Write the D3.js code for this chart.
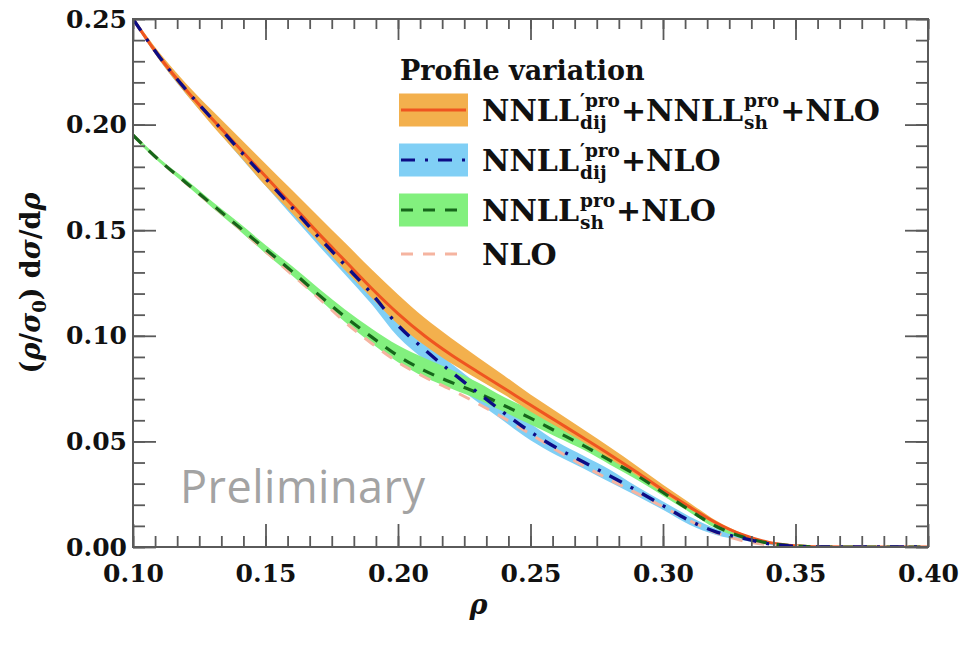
<!DOCTYPE html>
<html><head><meta charset="utf-8">
<script src="https://cdn.jsdelivr.net/npm/d3@7"></script>
<style>body{margin:0;background:#fff}</style>
</head><body>
<svg id="c" width="962" height="645"></svg>
<script>
// ---------------- data ----------------
const rho = [0.10,0.11,0.12,0.13,0.14,0.15,0.16,0.17,0.18,0.19,0.20,0.21,0.22,0.23,0.24,0.25,0.26,0.27,0.28,0.29,0.30,0.31,0.32,0.33,0.34,0.35,0.36,0.37,0.38,0.39,0.40];

// NNLL'_dij + NNLL_sh + NLO (orange band, red line)
const combCentral = [.250,.232,.2165,.2025,.189,.1755,.162,.1485,.1355,.1225,.1105,.100,.091,.083,.0752,.0672,.0594,.0516,.0437,.0355,.027,.019,.0115,.0058,.0022,.0006,.0001,0,0,0,0];
const combUpper   = [.251,.234,.2195,.2065,.194,.1815,.169,.1565,.144,.1315,.1195,.1085,.099,.090,.0812,.0722,.0639,.0556,.0472,.0385,.0295,.021,.0125,.0064,.0024,.0006,.0001,0,0,0,0];
const combLower   = [.249,.2305,.2145,.1995,.1855,.171,.158,.1445,.131,.118,.1055,.0955,.087,.0795,.0722,.0642,.0569,.0496,.0417,.034,.0255,.018,.0105,.0053,.0019,.0005,.0001,0,0,0,0];

// NNLL'_dij + NLO (blue band, navy dash-dot)
const dijCentral = [.250,.232,.2165,.2025,.1882,.1745,.1608,.1468,.1335,.120,.105,.0935,.083,.0732,.0635,.0545,.0468,.0402,.0336,.0268,.0196,.0125,.0072,.0042,.0015,.0003,0,0,0,0,0];
const dijUpper   = [.251,.2335,.2185,.2055,.1912,.178,.1648,.1508,.1375,.124,.109,.0975,.087,.0772,.0675,.0585,.0498,.0432,.0366,.0288,.0216,.0145,.0087,.0052,.002,.0005,0,0,0,0,0];
const dijLower   = [.249,.2305,.2145,.200,.1852,.171,.1568,.1428,.129,.115,.0995,.0885,.078,.0687,.0595,.0505,.0433,.0372,.0306,.0243,.0176,.0105,.0057,.0032,.001,.0001,0,0,0,0,0];

// NNLL_sh + NLO (green band, dark green dashed)
const shCentral = [.195,.183,.1725,.162,.1515,.141,.1305,.1195,.109,.0995,.0905,.0835,.078,.073,.067,.061,.0545,.048,.041,.034,.0258,.0175,.0098,.0048,.0018,.0005,0,0,0,0,0];
const shUpper   = [.196,.184,.174,.1635,.1535,.143,.133,.1225,.1125,.1035,.0955,.0895,.084,.078,.071,.065,.0575,.051,.044,.036,.0273,.0185,.0108,.0053,.002,.0005,0,0,0,0,0];
const shLower   = [.194,.182,.1715,.1605,.150,.139,.1285,.1175,.1065,.0965,.0875,.0805,.075,.070,.064,.058,.052,.046,.039,.032,.0243,.0165,.0088,.0043,.0016,.0004,0,0,0,0,0];

// NLO (salmon dashed)
const nlo = [.195,.183,.1722,.1617,.151,.140,.129,.118,.1065,.0965,.0875,.0805,.0745,.068,.061,.0535,.0457,.0385,.0318,.0255,.019,.0125,.0068,.003,.001,.0002,0,0,0,0,0];

const xMajorTicks = [0.10,0.15,0.20,0.25,0.30,0.35,0.40];
const yMajorTicks = [0.00,0.05,0.10,0.15,0.20,0.25];
const xTickLabels = ["0.10","0.15","0.20","0.25","0.30","0.35","0.40"];
const yTickLabels = ["0.00","0.05","0.10","0.15","0.20","0.25"];

// ---------------- drawing ----------------
const svg = d3.select("#c");
const L=133, R=928, T=19, B=547;
const x = d3.scaleLinear().domain([0.10,0.40]).range([L,R]);
const y = d3.scaleLinear().domain([0,0.25]).range([B,T]);
const serif = "'DejaVu Serif', serif";

const xMinor = d3.range(0,37).map(i => 0.10 + i*0.05/6).filter(v => v<0.4001);
const yMinor = d3.range(0,26).map(i => i*0.01);

const clipId = "clipP";
svg.append("defs").append("clipPath").attr("id",clipId).append("rect").attr("x",L).attr("y",T).attr("width",R-L).attr("height",B-T);
const plot = svg.append("g").attr("clip-path","url(#"+clipId+")");

function area(lo, hi){ return d3.area().x((d,i)=>x(rho[i])).y0((d,i)=>y(lo[i])).y1((d,i)=>y(hi[i])).curve(d3.curveMonotoneX)(rho); }
function line(v){ return d3.line().x((d,i)=>x(rho[i])).y((d,i)=>y(v[i])).curve(d3.curveMonotoneX)(rho); }

const C = {orangeBand:"#f3b04d", red:"#ef5520", blueBand:"#80cff5", navy:"#0c0c86", greenBand:"#82f07e", green:"#16661a", nlo:"#f5b4a0"};

plot.append("path").attr("d",area(dijLower,dijUpper)).attr("fill",C.blueBand);
plot.append("path").attr("d",area(shLower,shUpper)).attr("fill",C.greenBand);
plot.append("path").attr("d",area(combLower,combUpper)).attr("fill",C.orangeBand);
plot.append("path").attr("d",line(combCentral)).attr("fill","none").attr("stroke",C.red).attr("stroke-width",3);
plot.append("path").attr("d",line(nlo)).attr("fill","none").attr("stroke",C.nlo).attr("stroke-width",3).attr("stroke-dasharray","12,10");
plot.append("path").attr("d",line(shCentral)).attr("fill","none").attr("stroke",C.green).attr("stroke-width",3.2).attr("stroke-dasharray","12,10");
plot.append("path").attr("d",line(dijCentral)).attr("fill","none").attr("stroke",C.navy).attr("stroke-width",3.4).attr("stroke-dasharray","14,10,3,10");

// axes (ticks inward)
const axCol = "#5a5a5a";
function styleAxis(g){ g.select(".domain").remove(); g.selectAll("line").attr("stroke",axCol).attr("stroke-width",1.8); }
function labelStyle(g){ g.selectAll("text").attr("fill","#111").style("font-family",serif).style("font-weight","bold").style("font-size","25px"); }

svg.append("g").attr("transform",`translate(0,${B})`).call(d3.axisBottom(x).tickValues(xMinor).tickSize(-11).tickFormat("")).call(styleAxis);
svg.append("g").attr("transform",`translate(0,${B})`).call(d3.axisBottom(x).tickValues(xMajorTicks).tickSize(-23).tickPadding(11).tickFormat((d,i)=>xTickLabels[i])).call(styleAxis).call(labelStyle)
  .selectAll("text").attr("dy","0.95em");
svg.append("g").attr("transform",`translate(0,${T})`).call(d3.axisTop(x).tickValues(xMinor).tickSize(-10).tickFormat("")).call(styleAxis);
svg.append("g").attr("transform",`translate(0,${T})`).call(d3.axisTop(x).tickValues(xMajorTicks).tickSize(-21).tickFormat("")).call(styleAxis);

svg.append("g").attr("transform",`translate(${L},0)`).call(d3.axisLeft(y).tickValues(yMinor).tickSize(-12).tickFormat("")).call(styleAxis);
svg.append("g").attr("transform",`translate(${L},0)`).call(d3.axisLeft(y).tickValues(yMajorTicks).tickSize(-23).tickPadding(6).tickFormat((d,i)=>yTickLabels[i])).call(styleAxis).call(labelStyle);
svg.append("g").attr("transform",`translate(${R},0)`).call(d3.axisRight(y).tickValues(yMinor).tickSize(-12).tickFormat("")).call(styleAxis);
svg.append("g").attr("transform",`translate(${R},0)`).call(d3.axisRight(y).tickValues(yMajorTicks).tickSize(-23).tickFormat("")).call(styleAxis);

svg.append("rect").attr("x",L).attr("y",T).attr("width",R-L).attr("height",B-T).attr("fill","none").attr("stroke",axCol).attr("stroke-width",2);

// axis titles
svg.append("text").attr("x",(L+R)/2 - 52).attr("y",614).attr("text-anchor","middle")
  .style("font-family",serif).style("font-weight","bold").style("font-style","italic").style("font-size","27px").attr("fill","#111").text("ρ");

const yl = svg.append("text").attr("transform",`translate(40,${(T+B)/2}) rotate(-90)`).attr("text-anchor","middle")
  .style("font-family",serif).style("font-weight","bold").style("font-size","27px").attr("fill","#111");
yl.append("tspan").text("(");
yl.append("tspan").style("font-style","italic").text("ρ");
yl.append("tspan").text("/");
yl.append("tspan").style("font-style","italic").text("σ");
yl.append("tspan").attr("dy",6).style("font-size","18px").text("0");
yl.append("tspan").attr("dy",-6).text(") d");
yl.append("tspan").style("font-style","italic").text("σ");
yl.append("tspan").text("/d");
yl.append("tspan").style("font-style","italic").text("ρ");

// Preliminary watermark
svg.append("text").attr("x",180).attr("y",503).style("font-family","'Open Sans', Lato, sans-serif").style("font-size","45px")
  .attr("fill","#a3a3a3").attr("textLength",245).text("Preliminary");

// legend
const lg = svg.append("g").style("font-family",serif).style("font-weight","bold").attr("fill","#111");
lg.append("text").attr("x",400).attr("y",80).style("font-size","27px").text("Profile variation");

const legendItems = [
  {band:C.orangeBand, stroke:C.red, dash:null, parts:[{t:"NNLL"},{sup:"′pro",sub:"dij"},{t:"+NNLL"},{sup:"pro",sub:"sh"},{t:"+NLO"}]},
  {band:C.blueBand, stroke:C.navy, dash:"14,10,3,10", parts:[{t:"NNLL"},{sup:"′pro",sub:"dij"},{t:"+NLO"}]},
  {band:C.greenBand, stroke:C.green, dash:"12,10", parts:[{t:"NNLL"},{sup:"pro",sub:"sh"},{t:"+NLO"}]},
  {band:null, stroke:C.nlo, dash:"12,10", parts:[{t:"NLO"}]}
];
const rowY = [110,160,210,254];
const mainSize = 30, scriptSize = 18.5;
legendItems.forEach((it,k)=>{
  const cy = rowY[k];
  if(it.band) lg.append("rect").attr("x",399).attr("y",cy-16.5).attr("width",69).attr("height",33).attr("fill",it.band);
  const ln = lg.append("line").attr("x1",401).attr("x2",466).attr("y1",cy).attr("y2",cy).attr("stroke",it.stroke).attr("stroke-width",3);
  if(it.dash) ln.attr("stroke-dasharray",it.dash);
  let cx = 482; const base = cy + 11;
  it.parts.forEach(p=>{
    if(p.t!==undefined){
      const t = lg.append("text").attr("x",cx).attr("y",base).style("font-size",mainSize+"px").text(p.t);
      cx += t.node().getComputedTextLength();
    } else {
      const s = lg.append("text").attr("x",cx+1).attr("y",base-14).style("font-size",scriptSize+"px").text(p.sup);
      const b = lg.append("text").attr("x",cx+1).attr("y",base+8).style("font-size",scriptSize+"px").text(p.sub);
      cx += Math.max(s.node().getComputedTextLength(), b.node().getComputedTextLength()) + 2;
    }
  });
});
</script>
</body></html>
